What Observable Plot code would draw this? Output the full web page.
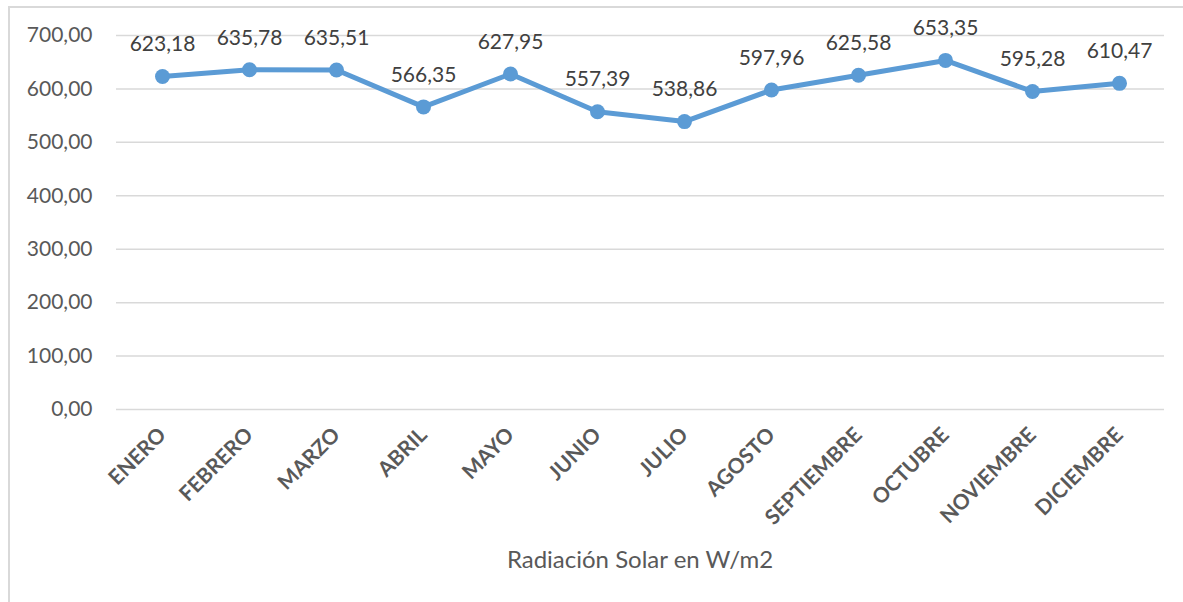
<!DOCTYPE html>
<html>
<head>
<meta charset="utf-8">
<script src="https://cdn.jsdelivr.net/npm/d3@7"></script>
<script src="https://cdn.jsdelivr.net/npm/@observablehq/plot@0.6"></script>
<style>
  html, body { margin: 0; padding: 0; background: #fff; width: 1183px; height: 602px; overflow: hidden; }
  #frame { position: absolute; left: 8px; top: 6px; width: 1200px; height: 640px; border: 2px solid #d9d9d9; box-sizing: border-box; }
  #chart { position: absolute; left: 0; top: 0; }
  #title { position: absolute; left: 116px; width: 1048px; top: 544px; text-align: center; font-family: Lato, "Open Sans", sans-serif; font-size: 24px; color: #595959; }
</style>
</head>
<body>
<div id="frame"></div>
<div id="chart"></div>
<div id="title">Radiación Solar en W/m2</div>
<script>
const months = ["ENERO","FEBRERO","MARZO","ABRIL","MAYO","JUNIO","JULIO","AGOSTO","SEPTIEMBRE","OCTUBRE","NOVIEMBRE","DICIEMBRE"];
const radiation = [623.18, 635.78, 635.51, 566.35, 627.95, 557.39, 538.86, 597.96, 625.58, 653.35, 595.28, 610.47];
const yTicks = [0, 100, 200, 300, 400, 500, 600, 700];

const data = months.map((m, i) => ({month: m, value: radiation[i]}));
const fmt = v => d3.format(".2f")(v).replace(".", ",");

const chart = Plot.plot({
  width: 1183,
  height: 540,
  marginLeft: 116,
  marginRight: 19,
  marginTop: 35,
  marginBottom: 131,
  style: {fontFamily: "Lato, 'Open Sans', sans-serif", background: "transparent"},
  x: {type: "point", domain: months, padding: 0.5, label: null},
  y: {domain: [0, 700], label: null},
  marks: [
    Plot.ruleY(yTicks, {stroke: "#d9d9d9", strokeWidth: 1.5}),
    Plot.axisY({ticks: yTicks, tickFormat: fmt, tickSize: 0, tickPadding: 24, fontSize: 21, fill: "#595959", label: null}),
    Plot.axisX({tickSize: 0, tickRotate: -45, tickPadding: 22, fontSize: 21, fontWeight: "bold", fill: "#595959", label: null}),
    Plot.line(data, {x: "month", y: "value", stroke: "#5B9BD5", strokeWidth: 5, strokeLinejoin: "round"}),
    Plot.dot(data, {x: "month", y: "value", r: 7.5, fill: "#5B9BD5", stroke: "none"}),
    Plot.text(data, {x: "month", y: "value", text: d => fmt(d.value), dy: -32, fontSize: 21, fill: "#404040"})
  ]
});
document.getElementById("chart").appendChild(chart);
</script>
</body>
</html>
